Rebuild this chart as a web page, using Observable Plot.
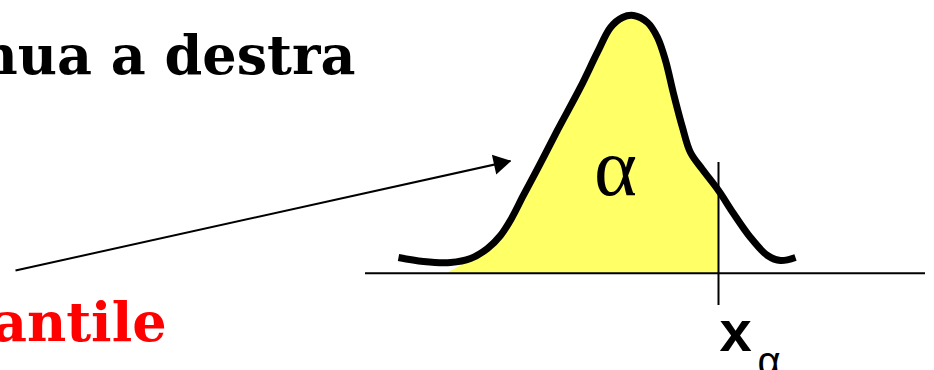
<!DOCTYPE html>
<html>
<head>
<meta charset="utf-8">
<script src="https://cdn.jsdelivr.net/npm/d3@7"></script>
<script src="https://cdn.jsdelivr.net/npm/@observablehq/plot@0.6"></script>
<style>
  html, body { margin: 0; padding: 0; background: #fff; overflow: hidden; }
</style>
</head>
<body>
<div id="chart"></div>
<script>
// Density curve (x position, height above the baseline)
const curveX = [398, 423, 450, 470, 487, 500, 510, 523, 540, 557, 580, 597, 610, 622, 633, 647, 657, 665, 673, 682, 690, 702, 718, 733, 750, 767, 780, 795];
const curveH = [15.7, 11.7, 10.7, 14.7, 24.7, 37.7, 53, 78, 110, 143, 186, 221, 245.7, 255.7, 257.7, 250.7, 235.7, 212.7, 179.7, 145.7, 120.7, 103.7, 82.7, 59.7, 35.7, 17.7, 12.7, 15.7];

// Shaded area (alpha) up to the quantile
const fillX = [447, 470, 487, 500, 510, 523, 540, 557, 580, 597, 610, 622, 633, 647, 657, 665, 673, 682, 690, 702, 718];
const fillH = [0, 13, 24.7, 37.7, 53, 78, 110, 143, 186, 221, 245.7, 255.7, 257.7, 250.7, 235.7, 212.7, 179.7, 145.7, 120.7, 103.7, 82.7];

// Quantile position and axis extent
const quantileX = [718];
const quantileSpan = [-32.3, 110.7];
const axisSpan = [365, 925];

// Arrow from the label to the curve
const arrowFrom = [15, 2.7];
const arrowTo = [510, 112.2];

// Labels
const titleText = ["nua a destra"];
const titlePos = [355, 199.7];
const quantileText = ["antile"];
const quantilePos = [166, -67.3];
const alphaText = ["α"];
const alphaPos = [615, 78.7];
const xLabel = ["x"];
const xLabelPos = [719, -77.3];
const subLabel = ["α"];
const subLabelPos = [757, -102];

const curve = curveX.map((x, i) => ({x, h: curveH[i]}));
const fill = fillX.map((x, i) => ({x, h: fillH[i]}));
const arrow = [{x1: arrowFrom[0], y1: arrowFrom[1], x2: arrowTo[0], y2: arrowTo[1]}];

// arrow head orientation (scales are 1:1 pixels, y inverted)
const sdx = arrowTo[0] - arrowFrom[0];
const sdy = -(arrowTo[1] - arrowFrom[1]);
const ang = Math.atan2(sdy, sdx);
const headBack = 11;

const chart = Plot.plot({
  width: 934,
  height: 370,
  margin: 0,
  style: {background: "#fff", overflow: "visible"},
  x: {domain: [0, 934], range: [0, 934], axis: null},
  y: {domain: [-97.3, 272.7], range: [370, 0], axis: null},
  marks: [
    Plot.areaY(fill, {x: "x", y: "h", fill: "#FFFF66", curve: "catmull-rom"}),
    Plot.ruleY([0], {x1: axisSpan[0], x2: axisSpan[1], stroke: "#000", strokeWidth: 2}),
    Plot.ruleX(quantileX, {y1: quantileSpan[0], y2: quantileSpan[1], stroke: "#000", strokeWidth: 2}),
    Plot.line(curve, {x: "x", y: "h", stroke: "#000", strokeWidth: 7, curve: "catmull-rom", strokeLinecap: "butt", strokeLinejoin: "round"}),
    Plot.link(arrow, {x1: "x1", y1: "y1", x2: "x2", y2: "y2", stroke: "#000", strokeWidth: 2}),
    Plot.dot([arrowTo], {
      x: d => d[0], y: d => d[1], symbol: "triangle", r: 7.5, fill: "#000", stroke: null,
      rotate: 90 + ang * 180 / Math.PI,
      dx: -headBack * Math.cos(ang), dy: -headBack * Math.sin(ang)
    }),
    Plot.text(titleText, {x: titlePos[0], y: titlePos[1], text: d => d, textAnchor: "end", lineAnchor: "bottom",
      fontFamily: "DejaVu Serif", fontWeight: "bold", fontSize: 54, fill: "#000"}),
    Plot.text(quantileText, {x: quantilePos[0], y: quantilePos[1], text: d => d, textAnchor: "end", lineAnchor: "bottom",
      fontFamily: "DejaVu Serif", fontWeight: "bold", fontSize: 54, fill: "#FF0000"}),
    Plot.text(alphaText, {x: alphaPos[0], y: alphaPos[1], text: d => d, textAnchor: "middle", lineAnchor: "bottom",
      fontFamily: "Liberation Serif", fontSize: 82, fill: "#000"}),
    Plot.text(xLabel, {x: xLabelPos[0], y: xLabelPos[1], text: d => d, textAnchor: "start", lineAnchor: "bottom",
      fontFamily: "Liberation Sans", fontWeight: "bold", fontSize: 58, fill: "#000"}),
    Plot.text(subLabel, {x: subLabelPos[0], y: subLabelPos[1], text: d => d, textAnchor: "start", lineAnchor: "bottom",
      fontFamily: "Liberation Sans", fontSize: 40, fill: "#000"})
  ]
});
document.getElementById("chart").appendChild(chart);
</script>
</body>
</html>
